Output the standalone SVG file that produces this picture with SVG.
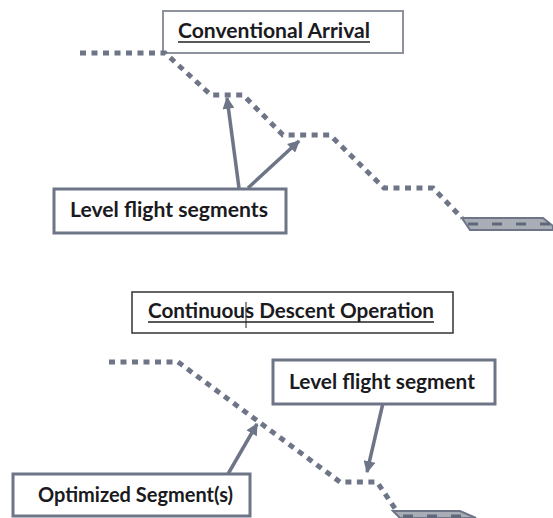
<svg xmlns="http://www.w3.org/2000/svg" width="553" height="518" viewBox="0 0 553 518">
  <style>
    .lbl { font-family: Lato, "Open Sans", "Liberation Sans", sans-serif; font-weight: bold; font-size: 20px; fill: #1a1a20; }
    .path { fill: none; stroke: #6d7587; stroke-width: 5; stroke-dasharray: 6 5.5; }
    .lead { fill: none; stroke: #6d7587; stroke-width: 3.5; marker-end: url(#head); }
    .callout { fill: #ffffff; stroke: #6d7587; stroke-width: 3; }
    .runway { fill: #a9adb6; stroke: #6d7587; stroke-width: 2; }
    .centre { stroke: #5f687a; stroke-width: 3; stroke-dasharray: 10 14; }
    .uline { stroke: #222222; stroke-width: 1.5; }
  </style>
  <defs>
    <marker id="head" viewBox="0 0 10 10" refX="9" refY="5" markerWidth="3.6" markerHeight="3.4" orient="auto" markerUnits="strokeWidth">
      <path d="M0,0 L10,5 L0,10 z" fill="#6d7587"/>
    </marker>
  </defs>

  <rect width="553" height="518" fill="#ffffff"/>

  <!-- upper profile: stepped arrival -->
  <g id="conventional-title">
    <rect x="163" y="11" width="240" height="42" fill="#ffffff" stroke="#8e929c" stroke-width="2"/>
    <text class="lbl" x="178" y="38" textLength="192" lengthAdjust="spacingAndGlyphs">Conventional Arrival</text>
    <line class="uline" x1="178" y1="42" x2="370" y2="42"/>
  </g>

  <g id="runway-top">
    <polygon class="runway" points="462,218 543,218 553,226 553,230 470,230"/>
    <line class="centre" x1="468" y1="224" x2="553" y2="224"/>
  </g>

  <!-- lower profile: continuous descent -->
  <g id="cdo-title">
    <rect x="132" y="292" width="321" height="41" fill="#ffffff" stroke="#333333" stroke-width="1.5"/>
    <text class="lbl" x="148" y="318" textLength="286" lengthAdjust="spacingAndGlyphs">Continuous Descent Operation</text>
    <line class="uline" x1="148" y1="322" x2="434" y2="322"/>
    <line x1="246" y1="302" x2="246" y2="328" stroke="#222222" stroke-width="1"/>
  </g>

  <g id="runway-bottom">
    <polygon class="runway" points="393,511 460,511 476,518 400,518"/>
    <line class="centre" x1="403" y1="516" x2="470" y2="516"/>
  </g>

  <g id="connectors">
    <path class="path" d="M80,53 L165,53 L211,95 L243,95 L283,135 L330,135 L384,188 L433,188 L462,218"/>
    <path class="path" d="M109,362 L178,362 L340,482 L377,482 L396,510"/>
    <line class="lead" x1="239" y1="188" x2="227" y2="98"/>
    <line class="lead" x1="248" y1="188" x2="299" y2="141"/>
    <line class="lead" x1="228" y1="474" x2="257" y2="424"/>
    <line class="lead" x1="383" y1="403" x2="367" y2="472"/>
  </g>

  <g id="level-segments">
    <rect class="callout" x="54" y="189" width="232" height="44"/>
    <text class="lbl" x="70" y="217" textLength="198" lengthAdjust="spacingAndGlyphs">Level flight segments</text>
  </g>

  <g id="level-segment">
    <rect class="callout" x="273" y="360" width="222" height="44"/>
    <text class="lbl" x="289" y="389" textLength="186" lengthAdjust="spacingAndGlyphs">Level flight segment</text>
  </g>

  <g id="optimized-segments">
    <rect class="callout" x="13" y="474" width="237" height="42"/>
    <text class="lbl" x="38" y="502" textLength="195" lengthAdjust="spacingAndGlyphs">Optimized Segment(s)</text>
  </g>
</svg>
